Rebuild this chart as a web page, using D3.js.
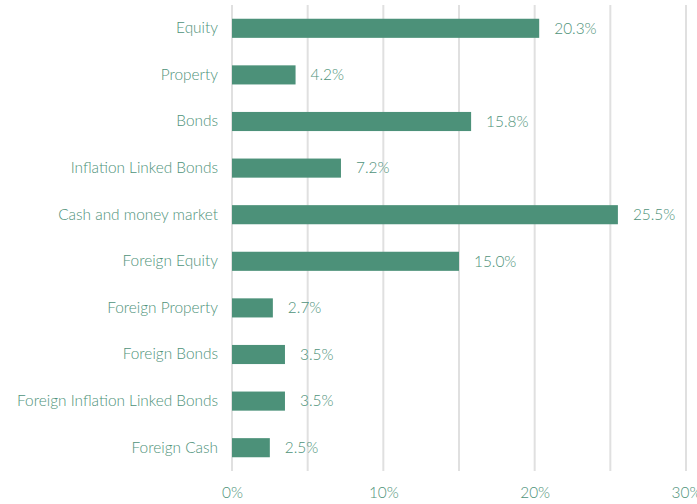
<!DOCTYPE html>
<html>
<head>
<meta charset="utf-8">
<script src="https://cdn.jsdelivr.net/npm/d3@7"></script>
<style>
  html, body { margin: 0; padding: 0; background: #fff; }
  svg { display: block; font-family: Lato, "Open Sans", sans-serif; font-weight: 300; }
</style>
</head>
<body>
<svg id="chart" width="697" height="504"></svg>
<script>
// Asset allocation by class
const categories = [
  "Equity", "Property", "Bonds", "Inflation Linked Bonds", "Cash and money market",
  "Foreign Equity", "Foreign Property", "Foreign Bonds", "Foreign Inflation Linked Bonds", "Foreign Cash"
];
const allocation = [20.3, 4.2, 15.8, 7.2, 25.5, 15.0, 2.7, 3.5, 3.5, 2.5];
const gridTicks = [0, 5, 10, 15, 20, 25, 30];
const axisTicks = [0, 10, 20, 30];

const svg = d3.select("#chart");
const barColor = "#4c9179";
const textColor = "#4e9279";
const fontSize = 15.4;

const x = d3.scaleLinear().domain([0, 30]).range([232, 686]);
const y = d3.scaleBand().domain(categories).range([5, 471]).paddingInner(0.59).paddingOuter(0.295);

// vertical gridlines
svg.append("g").selectAll("line").data(gridTicks).join("line")
  .attr("x1", d => x(d)).attr("x2", d => x(d))
  .attr("y1", 5).attr("y2", 471)
  .attr("stroke", "#e0e0e0").attr("stroke-width", 2);

// bottom axis labels
const xAxis = d3.axisBottom(x).tickValues(axisTicks).tickFormat(d => d + "%").tickSize(0).tickPadding(0);
const gx = svg.append("g").attr("transform", "translate(0,487)").call(xAxis);
gx.select(".domain").remove();
gx.selectAll("text").attr("fill", textColor).attr("font-size", fontSize)
  .attr("font-family", "Lato, sans-serif").attr("font-weight", 300).attr("dy", "0.71em");

// category labels
const yAxis = d3.axisLeft(y).tickSize(0).tickPadding(0);
const gy = svg.append("g").attr("transform", "translate(218,0)").call(yAxis);
gy.select(".domain").remove();
gy.selectAll("text").attr("fill", textColor).attr("font-size", fontSize)
  .attr("font-family", "Lato, sans-serif").attr("font-weight", 300);

// bars
svg.append("g").selectAll("rect").data(categories).join("rect")
  .attr("x", x(0))
  .attr("y", d => y(d))
  .attr("width", (d, i) => x(allocation[i]) - x(0))
  .attr("height", y.bandwidth())
  .attr("fill", barColor);

// value labels
svg.append("g").selectAll("text").data(categories).join("text")
  .attr("x", (d, i) => x(allocation[i]) + 15)
  .attr("y", d => y(d) + y.bandwidth() / 2)
  .attr("dy", "0.35em")
  .attr("fill", textColor)
  .attr("font-size", fontSize)
  .attr("font-weight", 300)
  .text((d, i) => allocation[i].toFixed(1) + "%");
</script>
</body>
</html>
